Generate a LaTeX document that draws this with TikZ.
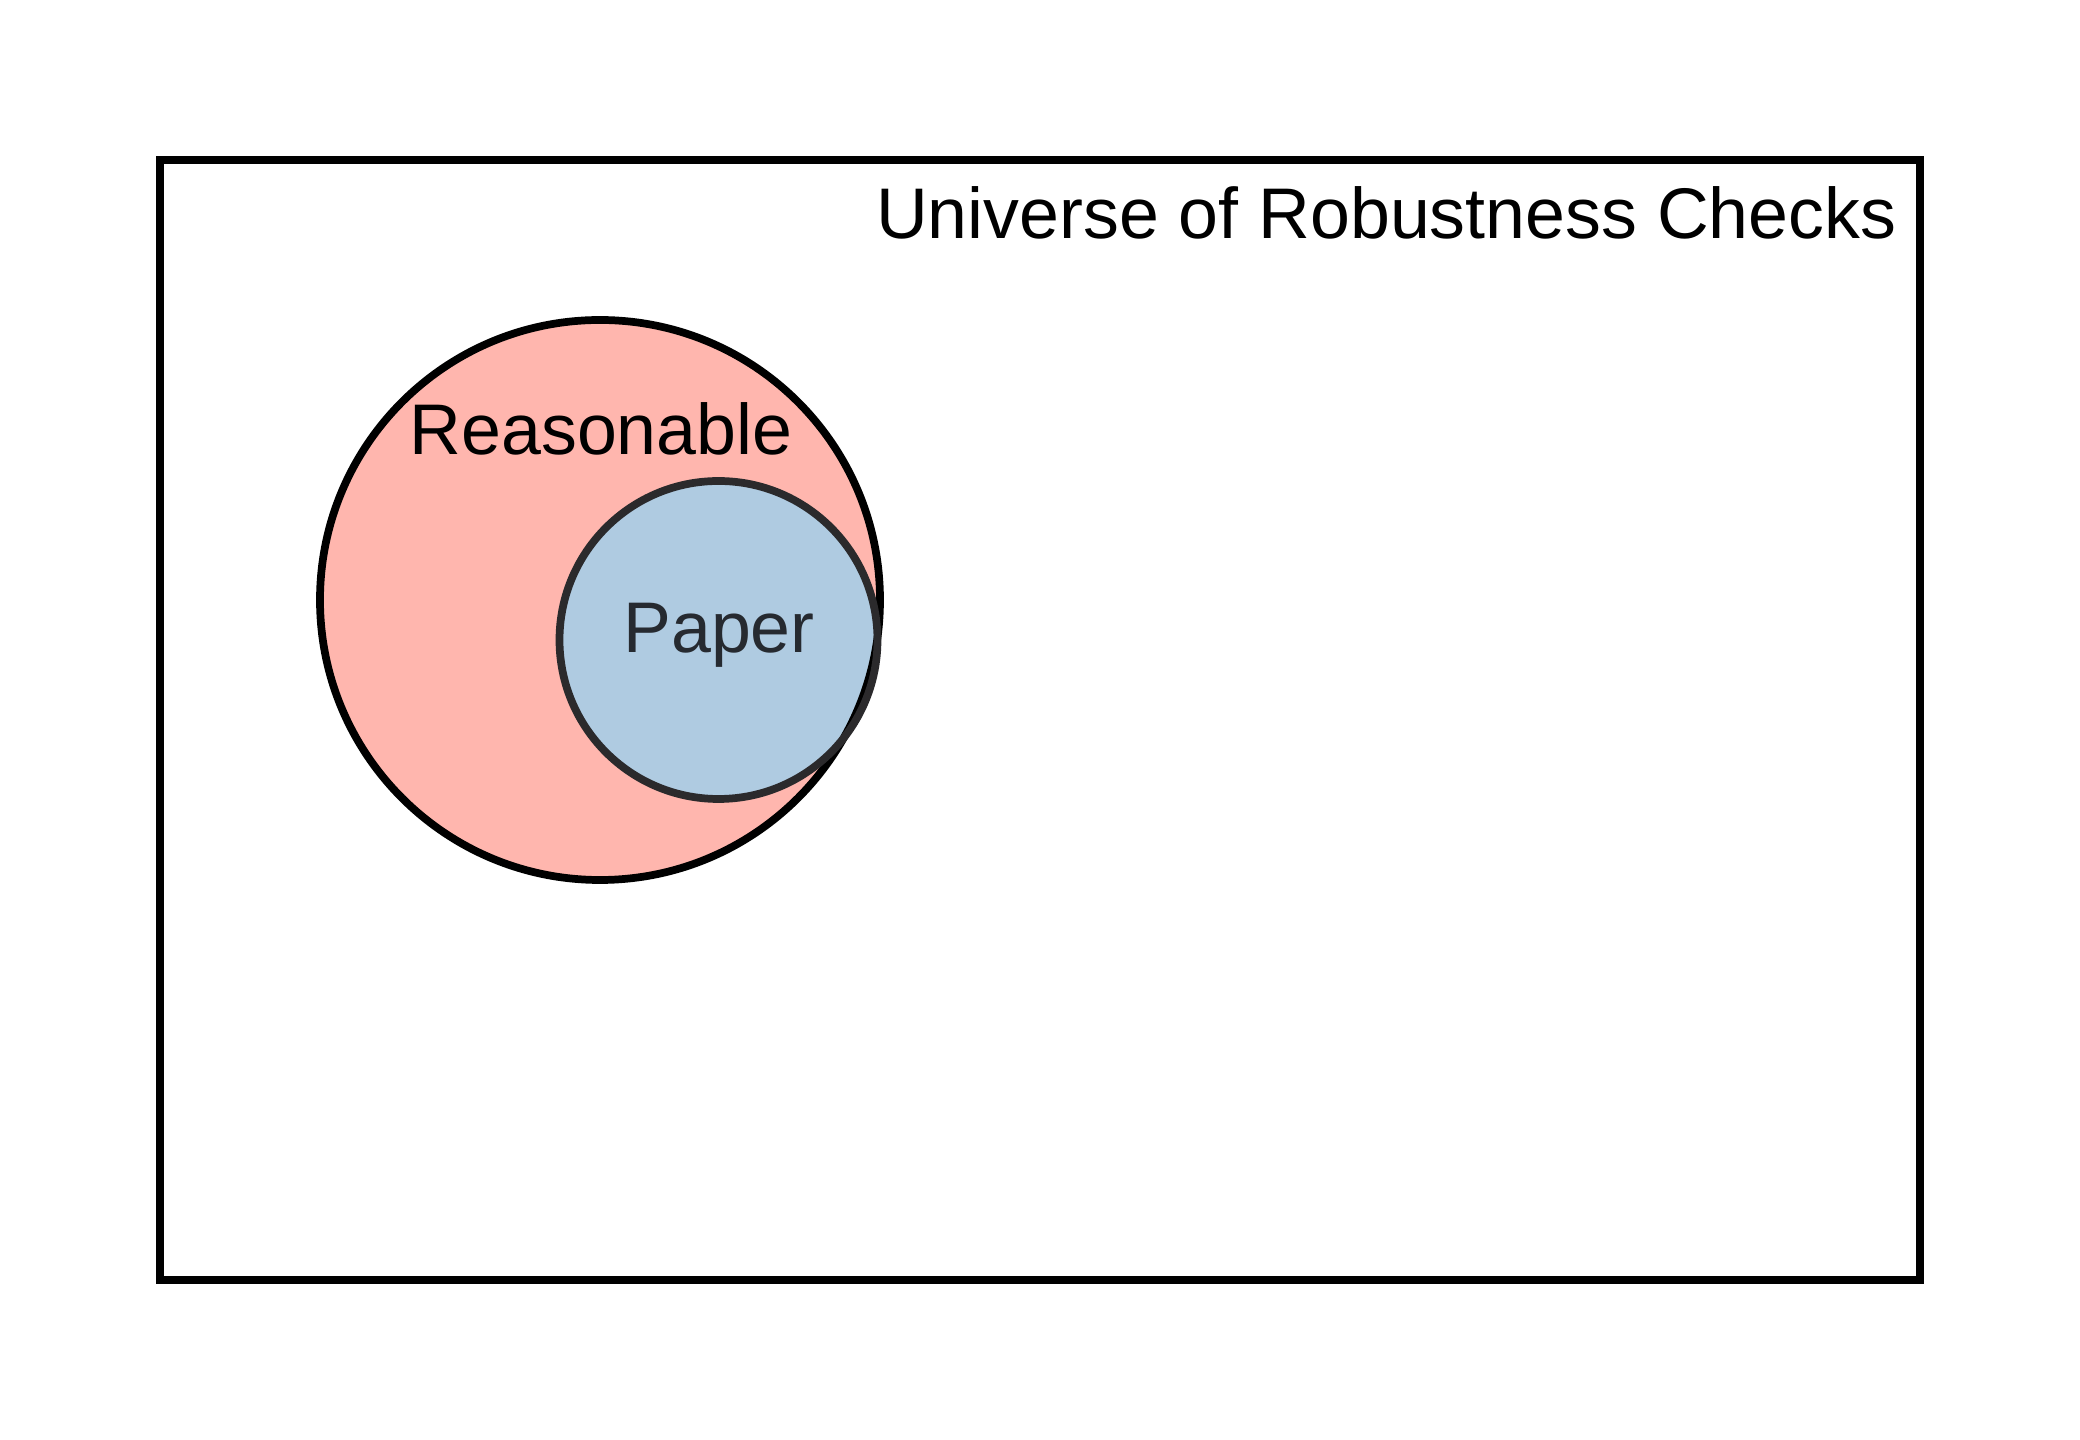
\documentclass[tikz,border=0pt]{standalone}
\usepackage{fontspec}
\setmainfont{Liberation Sans}
\usetikzlibrary{positioning}
\definecolor{salmonfill}{HTML}{FFB6AE}
\definecolor{paperfill}{HTML}{AFCBE1}
\definecolor{paperout}{HTML}{80A8C2}
\definecolor{paperedge}{HTML}{2B2A2C}
\definecolor{papertext}{HTML}{262A30}
\tikzset{
  % venn
  setedge/.style={draw=black,line width=2.2pt},
  subedge/.style={draw=paperedge,line width=2.2pt},
  setlbl/.style={font=\fontsize{20.4}{24}\selectfont,inner sep=0pt},
  unibox/.style={draw=black,line width=2.3pt},
}
\begin{document}
\begin{tikzpicture}
  \useasboundingbox (0,0) rectangle (20.8,14.4);
  \coordinate (rc) at (6.00,8.40);
  \coordinate (pc) at (7.185,8.00);
  \coordinate (ulo) at (1.60,1.60);
  \coordinate (uhi) at (19.20,12.80);
  \fill[salmonfill] (rc) circle (2.80);
  \fill[paperout] (pc) circle (1.59);
  \begin{scope}
  \clip (rc) circle (2.80);
  \fill[paperfill] (pc) circle (1.59);
  \end{scope}
  \draw[setedge] (rc) circle (2.80);
  \draw[subedge] (pc) circle (1.59);
  \draw[unibox] (ulo) rectangle (uhi);
  \node[setlbl,anchor=base east] (uni) at (18.97,12.01) {Universe of Robustness Checks};
  \node[setlbl,anchor=base] (reas) at (6.01,9.85) {Reasonable};
  \node[setlbl,anchor=base,text=papertext] (pap) at (7.19,7.87) {Paper};
\end{tikzpicture}
\end{document}
